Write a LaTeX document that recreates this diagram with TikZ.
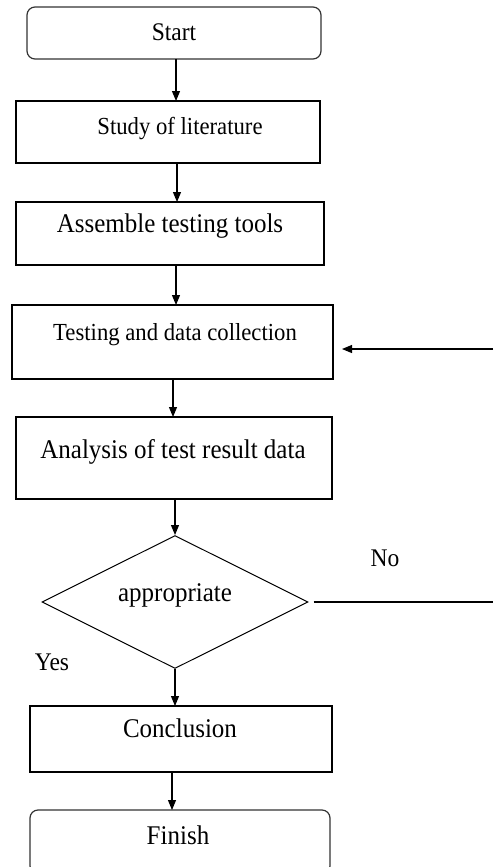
\documentclass[tikz,border=0pt]{standalone}
\usepackage{fontspec}
\usepackage{graphicx}
\setmainfont{Liberation Serif}
\usetikzlibrary{arrows.meta,shapes.geometric}

% font sizes used in the chart; glyphs set slightly tall
\newcommand{\fsA}[1]{\scalebox{1}[1.08]{\fontsize{25}{28}\selectfont #1}}
\newcommand{\fsB}[1]{\scalebox{1}[1.08]{\fontsize{22.7}{26}\selectfont #1}}
\newcommand{\fsC}[1]{\scalebox{1}[1.08]{\fontsize{23.5}{27}\selectfont #1}}

\tikzset{
  box/.style={draw, line width=1.2pt, inner sep=0pt, outer sep=0pt},
  roundbox/.style={box, rounded corners=8pt, draw=black!80},
  lbl/.style={inner sep=0pt, anchor=base},
  flow/.style={-{Triangle[width=8pt,length=10pt]}, line width=1.1pt},
  plain/.style={line width=1.1pt}
}

\begin{document}
\begin{tikzpicture}[x=1pt, y=-1pt]
  \useasboundingbox (0,0) rectangle (493,867);

  % process boxes, placed by their outer edges
  \node[roundbox, minimum width=294pt, minimum height=52pt] (start) at (174,33) {};
  \node[box, minimum width=304pt, minimum height=62pt] (study) at (168,132) {};
  \node[box, minimum width=308pt, minimum height=63pt] (assemble) at (170,233.5) {};
  \node[box, minimum width=321pt, minimum height=74pt] (testing) at (172.5,342) {};
  \node[box, minimum width=316pt, minimum height=82pt] (analysis) at (174,458) {};
  \node[diamond, draw, line width=1pt, inner sep=0pt, aspect=2,
        minimum width=266pt, minimum height=133pt] (check) at (175,602) {};
  \node[box, minimum width=302pt, minimum height=66pt] (concl) at (181,739) {};
  \node[roundbox, minimum width=300pt, minimum height=64pt] (finish) at (180,842) {};

  % box texts
  \node[lbl] (tstart) at (174,41) {\fsC{Start}};
  \node[lbl] (tstudy) at (180,134) {\fsB{Study of literature}};
  \node[lbl] (tassemble) at (170,232) {\fsA{Assemble testing tools}};
  \node[lbl] (ttesting) at (175,340) {\fsB{Testing and data collection}};
  \node[lbl] (tanalysis) at (173,458) {\fsA{Analysis of test result data}};
  \node[lbl] (tcheck) at (175,601) {\fsA{appropriate}};
  \node[lbl] (tconcl) at (180,737) {\fsA{Conclusion}};
  \node[lbl] (tfinish) at (178,844) {\fsA{Finish}};

  % branch labels
  \node[lbl] (tno) at (385,566) {\fsC{No}};
  \node[lbl] (tyes) at (52,670) {\fsC{Yes}};

  % main flow
  \draw[flow] (start.south -| 176,0) -- (study.north -| 176,0);
  \draw[flow] (study.south -| 177,0) -- (assemble.north -| 177,0);
  \draw[flow] (assemble.south -| 176,0) -- (testing.north -| 176,0);
  \draw[flow] (testing.south -| 173,0) -- (analysis.north -| 173,0);
  \draw[flow] (analysis.south -| check.north) -- (check.north);
  \draw[flow] (check.south) -- (concl.north -| check.south);
  \draw[flow] (concl.south -| 172,0) -- (finish.north -| 172,0);

  % return path ends
  \coordinate (backin) at (493,349);
  \coordinate (noout) at (493,602);
  \draw[flow] (backin) -- ([xshift=9pt]testing.east |- backin);
  \draw[plain] ([xshift=5pt]check.east) -- (noout);
\end{tikzpicture}
\end{document}
